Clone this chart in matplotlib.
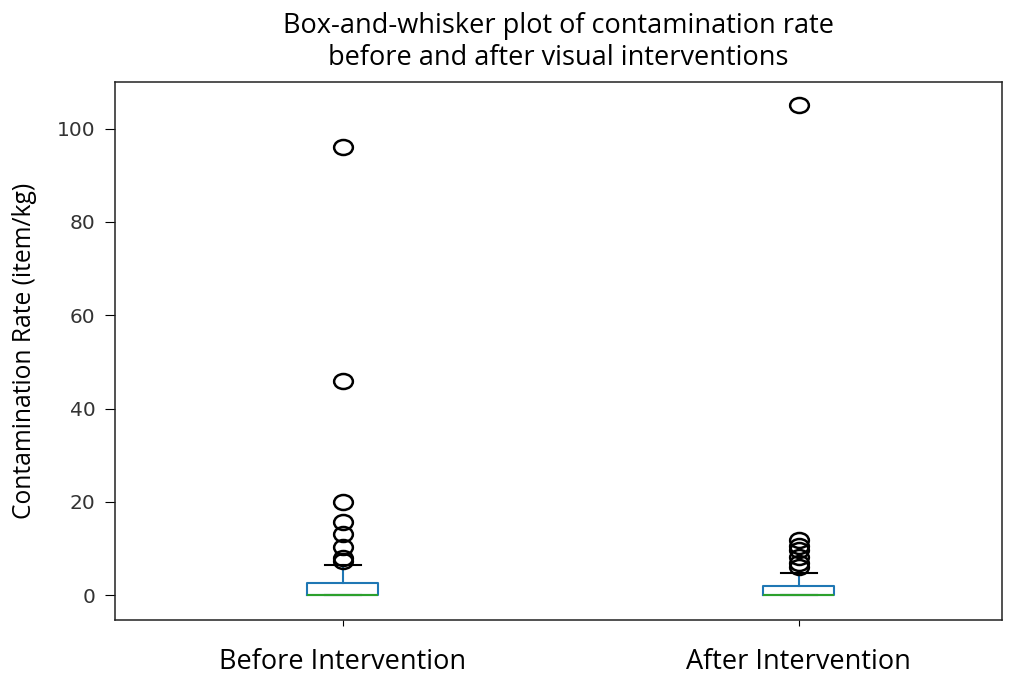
import matplotlib.pyplot as plt
from matplotlib.path import Path

# summary stats
labels = ["Before Intervention", "After Intervention"]
q1 = [0.0, 0.0]
medians = [0.0, 0.0]
q3 = [2.6, 2.0]
whislo = [0.0, 0.0]
whishi = [6.4, 4.8]
fliers_before = [96, 46, 20, 15.8, 13.2, 10.3, 8.0, 7.3]
fliers_after = [105, 11.9, 10.6, 9.6, 8.3, 6.9, 6.0]

stats = []
for i, lab in enumerate(labels):
    stats.append({
        "label": lab,
        "q1": q1[i], "med": medians[i], "q3": q3[i],
        "whislo": whislo[i], "whishi": whishi[i],
        "fliers": [fliers_before, fliers_after][i],
    })

# the source picture is a little stretched sideways, so use a wide ring
circ = Path.unit_circle()
ring = Path(circ.vertices * [1.25, 1.0], circ.codes)

fig = plt.figure(figsize=(10.17, 6.75), dpi=100)
ax = fig.add_axes([0.113, 0.0815, 0.872, 0.797])

ax.bxp(stats, positions=[1, 2], widths=0.156,
       boxprops=dict(color="#1f77b4", linewidth=1.5),
       whiskerprops=dict(color="#1f77b4", linewidth=1.5),
       medianprops=dict(color="#2ca02c", linewidth=1.5),
       capprops=dict(color="black", linewidth=1.5),
       flierprops=dict(marker=ring, markerfacecolor="none", markeredgecolor="black",
                       markersize=13.5, markeredgewidth=1.8))

for sp in ax.spines.values():
    sp.set_linewidth(1.1)
    sp.set_color("#222222")

ax.set_xlim(0.5, 2.445)
ax.set_ylim(-5.3, 110)
ax.set_yticks([0, 20, 40, 60, 80, 100])
ax.tick_params(axis="y", labelsize=14.5, length=7, pad=7, labelcolor="#333333")
ax.tick_params(axis="x", length=4, pad=16)
ax.set_xticklabels(labels, fontsize=19.5, family="Open Sans")
ax.set_ylabel("Contamination Rate (item/kg)", fontsize=17.7, family="Open Sans", labelpad=14)
ax.set_title("Box-and-whisker plot of contamination rate\nbefore and after visual interventions",
             fontsize=19.5, family="Open Sans", pad=12, linespacing=1.2)

fig.savefig("out.png", dpi=100)
